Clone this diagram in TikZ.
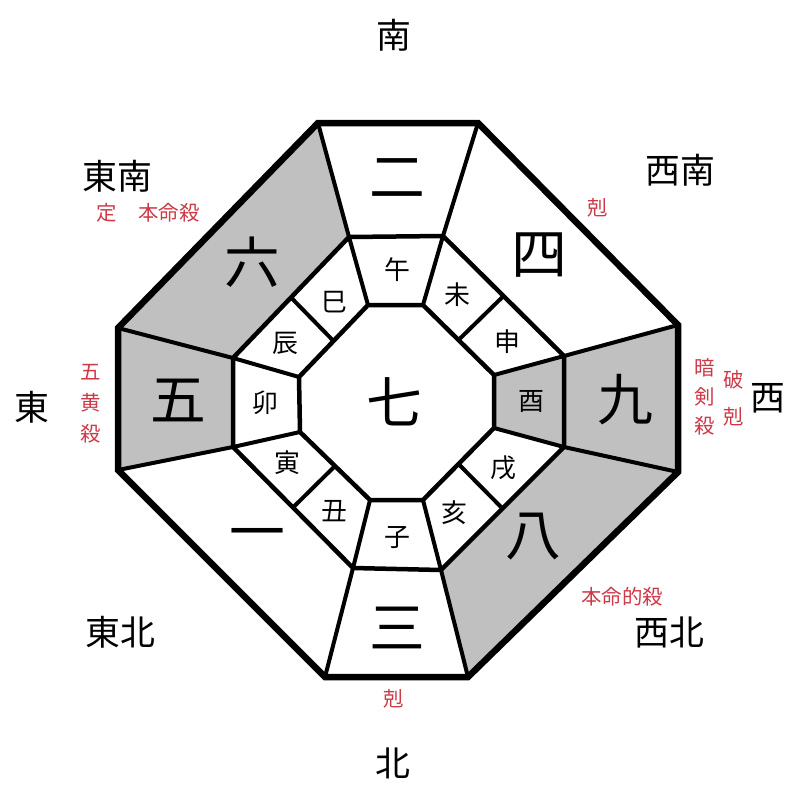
\documentclass[tikz,border=0pt]{standalone}
\usepackage{fontspec}
\setmainfont{Noto Sans CJK JP}
\usepackage{tikz}
\usetikzlibrary{calc}
\definecolor{ringgray}{HTML}{C0C0C0}
\definecolor{omenred}{HTML}{CC3A48}
\tikzset{
  starnum/.style={font=\fontsize{56}{56}\selectfont,inner sep=0pt},
  branch/.style={font=\fontsize{26}{26}\selectfont,inner sep=0pt},
  compass/.style={font=\fontsize{35}{35}\selectfont,inner sep=0pt},
  omen/.style={font=\fontsize{20.5}{#1}\selectfont,text=omenred,align=center,inner sep=0pt},
  omen/.default={20},
  cellfill/.style={fill=ringgray},
  rim/.style={line width=6.5bp,line join=miter},
  wall/.style={line width=4.5bp,line join=miter},
  spoke/.style={line width=4bp},
}

\begin{document}
\begin{tikzpicture}[x=1bp,y=-1bp]
  \useasboundingbox (0,0) rectangle (800,800);
  % outer, middle and inner octagon corners
  \coordinate (o1) at (318,123); \coordinate (o2) at (478,123);
  \coordinate (o3) at (678,325); \coordinate (o4) at (678,472);
  \coordinate (o5) at (468,677); \coordinate (o6) at (325,677);
  \coordinate (o7) at (118,470); \coordinate (o8) at (118,328);
  \coordinate (m1) at (349,237); \coordinate (m2) at (443,236);
  \coordinate (m3) at (564,356); \coordinate (m4) at (564,447);
  \coordinate (m5) at (441,570); \coordinate (m6) at (353,568);
  \coordinate (m7) at (233,447); \coordinate (m8) at (233,358);
  \coordinate (i1) at (368,305); \coordinate (i2) at (423,305);
  \coordinate (i3) at (494,375); \coordinate (i4) at (494,428);
  \coordinate (i5) at (423,500); \coordinate (i6) at (370,500);
  \coordinate (i7) at (300,432); \coordinate (i8) at (299,377);

  % shaded cells
  \fill[cellfill] (o8) -- (o1) -- (m1) -- (m8) -- cycle;
  \fill[cellfill] (o7) -- (o8) -- (m8) -- (m7) -- cycle;
  \fill[cellfill] (o3) -- (o4) -- (m4) -- (m3) -- cycle;
  \fill[cellfill] (o4) -- (o5) -- (m5) -- (m4) -- cycle;
  \fill[cellfill] (m3) -- (m4) -- (i4) -- (i3) -- cycle;

  % spokes
  \foreach \k in {1,...,8} {
    \draw[spoke] (o\k) -- (m\k);
    \draw[spoke] (m\k) -- (i\k);
  }
  \draw[spoke] ($(m8)!0.5!(m1)$) -- ($(i8)!0.5!(i1)$);
  \draw[spoke] ($(m2)!0.5!(m3)$) -- ($(i2)!0.5!(i3)$);
  \draw[spoke] ($(m4)!0.5!(m5)$) -- ($(i4)!0.5!(i5)$);
  \draw[spoke] ($(m6)!0.5!(m7)$) -- ($(i6)!0.5!(i7)$);

  \draw[wall] (m1) -- (m2) -- (m3) -- (m4) -- (m5) -- (m6) -- (m7) -- (m8) -- cycle;
  \draw[wall] (i1) -- (i2) -- (i3) -- (i4) -- (i5) -- (i6) -- (i7) -- (i8) -- cycle;
  \draw[rim] (o1) -- (o2) -- (o3) -- (o4) -- (o5) -- (o6) -- (o7) -- (o8) -- cycle;

  % nine stars
  \node[starnum] (s7) at (394,402) {七};
  \node[starnum] (s2) at (397,178) {二};
  \node[starnum] (s4) at (539,255) {四};
  \node[starnum] (s9) at (625,400) {九};
  \node[starnum] (s8) at (533,537) {八};
  \node[starnum] (s3) at (397,628) {三};
  \node[starnum] (s1) at (257,540) {一};
  \node[starnum] (s5) at (178,400) {五};
  \node[starnum] (s6) at (252,262) {六};

  % twelve branches
  \node[branch] (uma)   at (397,270) {午};
  \node[branch] (hitsuji) at (457,295) {未};
  \node[branch] (saru)  at (507,342) {申};
  \node[branch] (tori)  at (531,401) {酉};
  \node[branch] (inu)   at (503,468) {戌};
  \node[branch] (i)     at (454,513) {亥};
  \node[branch] (ne)    at (397,538) {子};
  \node[branch] (ushi)  at (334,511) {丑};
  \node[branch] (tora)  at (287,463) {寅};
  \node[branch] (u)     at (265,403) {卯};
  \node[branch] (tatsu) at (285,343) {辰};
  \node[branch] (mi)    at (334,302) {巳};

  % directions
  \node[compass] (south)     at (394,35)  {南};
  \node[compass] (southeast) at (117,176) {東南};
  \node[compass] (southwest) at (680,170) {西南};
  \node[compass] (east)      at (32,407)  {東};
  \node[compass] (west)      at (768,398) {西};
  \node[compass] (northeast) at (120,632) {東北};
  \node[compass] (northwest) at (669,632) {西北};
  \node[compass] (north)     at (393,763) {北};

  % omens
  \node[omen] (sedef)   at (107,213) {定};
  \node[omen] (sehon)   at (169,213) {本命殺};
  \node[omen] (swkoku)  at (598,208) {剋};
  \node[omen=31] (gooh) at (91,404)  {五\\黄\\殺};
  \node[omen=29] (anken) at (705,397) {暗\\剣\\殺};
  \node[omen=37] (hakoku) at (734,398) {破\\剋};
  \node[omen] (nwhon)   at (622,597) {本命的殺};
  \node[omen] (nkoku)   at (394,699) {剋};
\end{tikzpicture}
\end{document}
